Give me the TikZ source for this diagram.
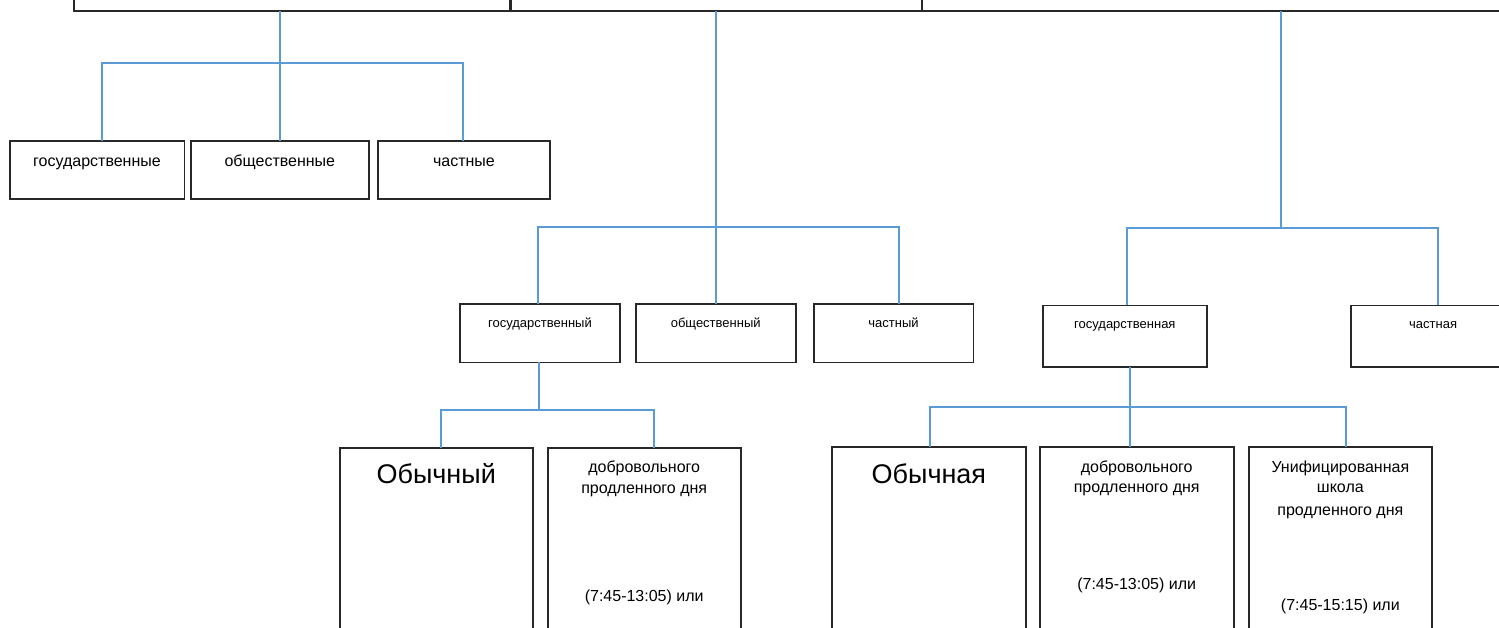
\documentclass[tikz,border=0pt]{standalone}
\usepackage{fontspec}
\setmainfont{Liberation Sans}
\definecolor{lineblue}{RGB}{91,155,213}
\definecolor{boxline}{RGB}{40,40,40}
\begin{document}
\begin{tikzpicture}[x=1pt,y=-1pt,
  box/.style={draw=boxline, line width=1.6pt, rectangle, inner sep=0pt, outer sep=0pt, anchor=north west},
  conn/.style={draw=lineblue, line width=2pt},
  txt/.style={anchor=base, inner sep=0pt, outer sep=0pt},
  fa/.style={txt, font=\fontsize{16}{19}\selectfont},
  fb/.style={txt, font=\fontsize{13}{16}\selectfont},
  fc/.style={txt, font=\fontsize{27}{32}\selectfont}]
\useasboundingbox (0,0) rectangle (1499,627);
\clip (0,0) rectangle (1499,627);

% junction coordinates
\coordinate (j1) at (280,63.3);
\coordinate (j1l) at (102.3,63.3);
\coordinate (j1r) at (463,63.3);
\coordinate (j2) at (716,226.7);
\coordinate (j2l) at (538.3,226.7);
\coordinate (j2r) at (899.3,226.7);
\coordinate (j3) at (1281,228.3);
\coordinate (j3l) at (1126.7,228.3);
\coordinate (j3r) at (1437.7,228.3);
\coordinate (j4) at (539,410);
\coordinate (j4l) at (441,410);
\coordinate (j4r) at (653.7,410);
\coordinate (j5) at (1130.3,407.3);
\coordinate (j5l) at (930,407.3);
\coordinate (j5r) at (1346.3,407.3);

% boxes
\node[box, minimum width=435.9pt, minimum height=60.7pt] (T1) at (73.7,-50) {};
\node[box, minimum width=411pt, minimum height=60.7pt] (T2) at (511,-50) {};
\node[box, minimum width=700pt, minimum height=60.7pt] (T3) at (922,-50) {};

\node[box, minimum width=174.6pt, minimum height=58.3pt] (A1) at (9.7,140.7) {};
\node[box, minimum width=178.3pt, minimum height=58.3pt] (A2) at (190.7,140.7) {};
\node[box, minimum width=172.5pt, minimum height=58.3pt] (A3) at (377.7,140.7) {};

\node[box, minimum width=160pt, minimum height=58.3pt] (B1) at (460,304) {};
\node[box, minimum width=160pt, minimum height=58.3pt] (B2) at (635.7,304) {};
\node[box, minimum width=159.6pt, minimum height=58.3pt] (B3) at (813.7,304) {};

\node[box, minimum width=164.3pt, minimum height=61.4pt] (C1) at (1042.7,305.3) {};
\node[box, minimum width=164.3pt, minimum height=61.4pt] (C2) at (1351,305.3) {};

\node[box, minimum width=193pt, minimum height=220pt] (D1) at (339.7,447.7) {};
\node[box, minimum width=193pt, minimum height=220pt] (D2) at (547.7,447.7) {};

\node[box, minimum width=193.7pt, minimum height=220pt] (E1) at (832,446.7) {};
\node[box, minimum width=194pt, minimum height=220pt] (E2) at (1039.7,446.7) {};
\node[box, minimum width=183.3pt, minimum height=220pt] (E3) at (1248.7,446.7) {};

% connectors
\draw[conn] (T1.south -| j1) -- (j1 |- A2.north);
\draw[conn] (j1l |- A1.north) -- (j1l) -- (j1r) -- (j1r |- A3.north);

\draw[conn] (T2.south -| j2) -- (j2 |- B2.north);
\draw[conn] (j2l |- B1.north) -- (j2l) -- (j2r) -- (j2r |- B3.north);

\draw[conn] (T3.south -| j3) -- (j3);
\draw[conn] (j3l |- C1.north) -- (j3l) -- (j3r) -- (j3r |- C2.north);

\draw[conn] (B1.south -| j4) -- (j4);
\draw[conn] (j4l |- D1.north) -- (j4l) -- (j4r) -- (j4r |- D2.north);

\draw[conn] (C1.south -| j5) -- (j5 |- E2.north);
\draw[conn] (j5l |- E1.north) -- (j5l) -- (j5r) -- (j5r |- E3.north);

% texts
\node[fa] (A1t) at ([yshift=-25.3pt]A1.north) {государственные};
\node[fa] (A2t) at ([yshift=-25.3pt]A2.north) {общественные};
\node[fa] (A3t) at ([yshift=-25.3pt]A3.north) {частные};

\node[fb] (B1t) at ([yshift=-23pt]B1.north) {государственный};
\node[fb] (B2t) at ([yshift=-23pt]B2.north) {общественный};
\node[fb] (B3t) at ([yshift=-23pt]B3.north) {частный};

\node[fb] (C1t) at ([yshift=-23pt]C1.north) {государственная};
\node[fb] (C2t) at ([yshift=-23pt]C2.north) {частная};

\node[fc] (D1t) at ([yshift=-35.6pt]D1.north) {Обычный};
\node[fa] (D2a) at ([yshift=-25pt]D2.north) {добровольного};
\node[fa] (D2b) at ([yshift=-45.6pt]D2.north) {продленного дня};
\node[fa] (D2c) at ([yshift=-154pt]D2.north) {(7:45-13:05) или};

\node[fc] (E1t) at ([yshift=-36.6pt]E1.north) {Обычная};
\node[fa] (E2a) at ([yshift=-26pt]E2.north) {добровольного};
\node[fa] (E2b) at ([yshift=-46pt]E2.north) {продленного дня};
\node[fa] (E2c) at ([yshift=-142.6pt]E2.north) {(7:45-13:05) или};
\node[fa] (E3a) at ([yshift=-25.6pt]E3.north) {Унифицированная};
\node[fa] (E3b) at ([yshift=-46pt]E3.north) {школа};
\node[fa] (E3c) at ([yshift=-68.3pt]E3.north) {продленного дня};
\node[fa] (E3d) at ([yshift=-163.3pt]E3.north) {(7:45-15:15) или};
\end{tikzpicture}
\end{document}
